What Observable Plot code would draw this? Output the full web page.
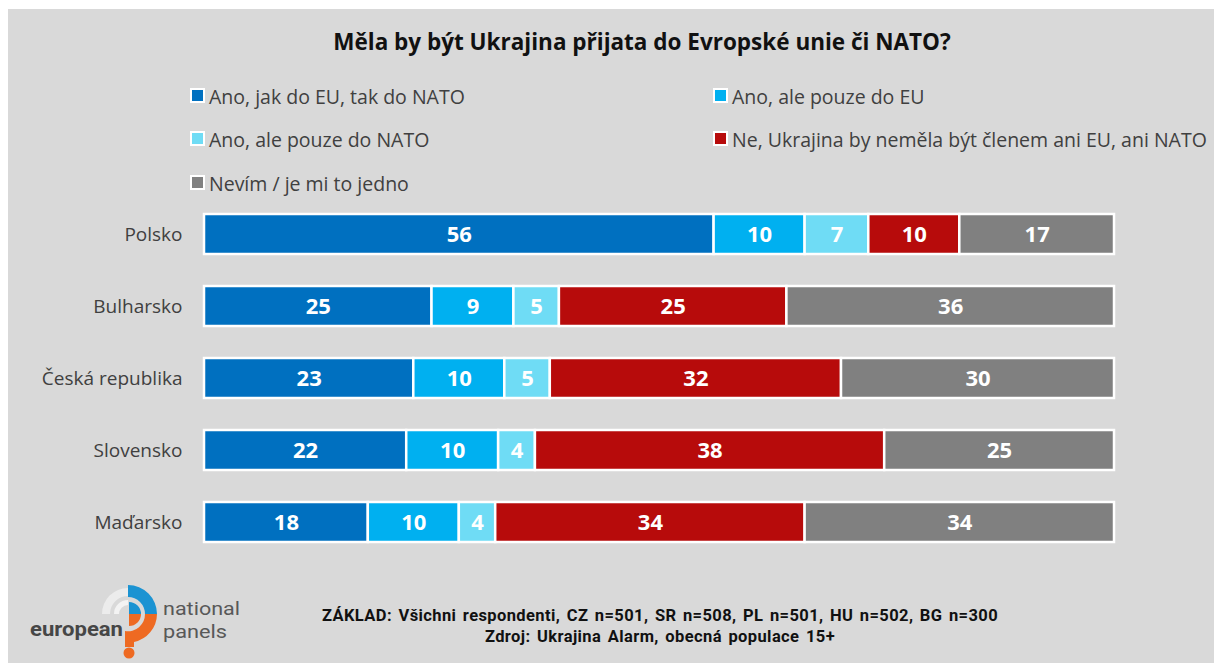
<!DOCTYPE html>
<html>
<head>
<meta charset="utf-8">
<script src="https://cdn.jsdelivr.net/npm/d3@7"></script>
<script src="https://cdn.jsdelivr.net/npm/@observablehq/plot@0.6"></script>
<style>
  html, body { margin: 0; padding: 0; background: #fff; }
  #page { position: relative; width: 1214px; height: 663px; overflow: hidden; background: #fff; font-family: "Open Sans", "Noto Sans", sans-serif; }
  #bg { position: absolute; left: 8px; top: 9px; right: 0; bottom: 0; background: #d9d9d9; }
  #title { position: absolute; left: 70px; right: 0; top: 27px; text-align: center; font-size: 22.5px; line-height: 30px; font-weight: 700; color: #111; letter-spacing: 0px; }
  .leg { position: absolute; font-size: 19.5px; line-height: 24px; color: #404040; white-space: nowrap; z-index: 2; }
  .leg span.sw { display: inline-block; width: 11px; height: 11px; border: 2px solid #fff; margin-right: 4px; vertical-align: 1px; }
  #chart { position: absolute; left: 0; top: 175px; z-index: 1; }
  #foot { position: absolute; left: 260px; width: 800px; top: 605px; text-align: center; font-family: Roboto, sans-serif; font-weight: 700; font-size: 16.5px; letter-spacing: 0.4px; word-spacing: 2px; line-height: 21px; color: #111; }
  #logo { position: absolute; left: 0; top: 580px; }
</style>
</head>
<body>
<div id="page">
  <div id="bg"></div>
  <div id="title">Měla by být Ukrajina přijata do Evropské unie či NATO?</div>
  <div id="legend"></div>
  <div id="chart"></div>
  <svg id="logo" width="260" height="83" viewBox="0 580 260 83">
    <g>
      <path d="M102,614 A26,26 0 0 1 128,588 L128,596 A18,18 0 0 0 110,614 Z" fill="#ececec"/>
      <path d="M114,614 A14,14 0 0 1 128,600 L128,605 A9,9 0 0 0 119,614 Z" fill="#f3f3f3"/>
      <path d="M128,585 A29,29 0 0 1 157,614 L145,614 A17,17 0 0 0 128,597 Z" fill="#1b93d2"/>
      <path d="M129,602 A12,12 0 0 1 141,614 L129,614 Z" fill="#1b93d2"/>
      <path d="M157,614 A29,29 0 0 1 134,642 L134,647 L125,647 L125,631 A17,17 0 0 0 145,614 Z" fill="#ee6a22"/>
      <path d="M141,614 A12,12 0 0 1 129,626 L129,614 Z" fill="#ee6a22"/>
      <circle cx="129" cy="653" r="5.5" fill="#ee6a22"/>
    </g>
    <text x="30" y="636" font-family="Roboto, sans-serif" font-weight="700" font-size="21" fill="#464646" textLength="93" lengthAdjust="spacingAndGlyphs">european</text>
    <text x="163" y="615" font-family="Roboto, sans-serif" font-weight="400" font-size="18.5" fill="#585858" textLength="77" lengthAdjust="spacingAndGlyphs">national</text>
    <text x="163" y="638" font-family="Roboto, sans-serif" font-weight="400" font-size="18.5" fill="#585858" textLength="64" lengthAdjust="spacingAndGlyphs">panels</text>
  </svg>
  <div id="foot">ZÁKLAD: Všichni respondenti, CZ n=501, SR n=508, PL n=501, HU n=502, BG n=300<br>Zdroj: Ukrajina Alarm, obecná populace 15+</div>
</div>
<script>
const countries = ["Polsko", "Bulharsko", "Česká republika", "Slovensko", "Maďarsko"];
const categories = [
  "Ano, jak do EU, tak do NATO",
  "Ano, ale pouze do EU",
  "Ano, ale pouze do NATO",
  "Ne, Ukrajina by neměla být členem ani EU, ani NATO",
  "Nevím / je mi to jedno"
];
const colors = ["#0070c0", "#00b0f0", "#6fdcf5", "#b70b0b", "#808080"];
const bothValues   = [56, 25, 23, 22, 18];
const euOnly       = [10, 9, 10, 10, 10];
const natoOnly     = [7, 5, 5, 4, 4];
const noValues     = [10, 25, 32, 38, 34];
const dontKnow     = [17, 36, 30, 25, 34];

const series = [bothValues, euOnly, natoOnly, noValues, dontKnow];
const data = [];
countries.forEach((c, i) => {
  categories.forEach((cat, j) => {
    data.push({country: c, cat, value: series[j][i]});
  });
});

// legend
const legendPos = [
  [190, 85], [713, 85],
  [190, 128], [713, 128],
  [190, 172]
];
const legend = document.getElementById("legend");
categories.forEach((cat, j) => {
  const d = document.createElement("div");
  d.className = "leg";
  d.style.left = legendPos[j][0] + "px";
  d.style.top = legendPos[j][1] + "px";
  d.innerHTML = `<span class="sw" style="background:${colors[j]}"></span>${cat}`;
  legend.appendChild(d);
});

const stackOpts = {x: "value", y: "country", z: "cat", offset: "normalize", order: categories};

const chart = Plot.plot({
  width: 1214,
  height: 410,
  marginLeft: 204,
  marginRight: 100,
  marginTop: 5,
  marginBottom: 8.5,
  style: {background: "transparent", fontFamily: "'Open Sans', 'Noto Sans', sans-serif"},
  x: {domain: [0, 1], axis: null},
  y: {domain: countries, padding: 0.45, label: null},
  color: {domain: categories, range: colors},
  marks: [
    Plot.barX(data, Plot.stackX({...stackOpts, fill: "cat", stroke: "white", strokeWidth: 2.5})),
    Plot.text(data, Plot.stackX({...stackOpts, text: d => String(d.value), fill: "white", fontSize: 22, fontWeight: 700})),
    Plot.axisY({tickSize: 0, tickPadding: 22, fontSize: 19, color: "#404040", label: null})
  ]
});
document.getElementById("chart").appendChild(chart);
</script>
</body>
</html>
